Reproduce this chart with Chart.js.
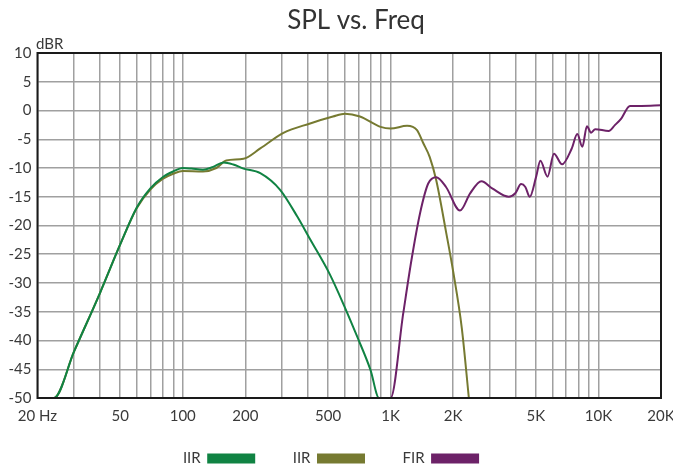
<!DOCTYPE html>
<html>
<head>
<meta charset="utf-8">
<script src="https://cdn.jsdelivr.net/npm/chart.js@4"></script>
<style>
  html, body { margin: 0; padding: 0; background: #fff; }
  #wrap { width: 673px; height: 468px; }
</style>
</head>
<body>
<div id="wrap"><canvas id="splChart"></canvas></div>
<script>
// axis setup
const xTickValues = [20, 50, 100, 200, 500, 1000, 2000, 5000, 10000, 20000]
const xTickLabels = ['20 Hz', '50', '100', '200', '500', '1K', '2K', '5K', '10K', '20K']
const yMin = -50
const yMax = 10
const yStep = 5

// IIR (green)
const iirGreenFreq = [20, 24, 30, 40, 50, 60, 70, 80, 90, 100, 110, 125, 140, 157, 175, 196, 236, 294, 355, 410, 510, 600, 690, 800, 880, 1500]
const iirGreenDb = [-50, -50, -41.9, -31.7, -23.3, -16.9, -13.5, -11.6, -10.6, -10.0, -10.1, -10.3, -9.8, -9.05, -9.4, -10.1, -10.9, -13.8, -18.4, -22.4, -28.5, -34.1, -39.3, -45.1, -50, -50]

// IIR (olive)
const iirOliveFreq = [20, 24, 30, 40, 50, 60, 70, 80, 90, 100, 125, 145, 162, 196, 236, 305, 410, 528, 603, 712, 894, 1000, 1200, 1340, 1437, 1543, 1657, 1848, 2000, 2200, 2380]
const iirOliveDb = [-50, -50, -41.9, -31.7, -23.3, -17.0, -13.7, -11.9, -11.0, -10.5, -10.6, -10.0, -8.7, -8.4, -6.6, -3.9, -2.25, -1.05, -0.55, -1.05, -2.85, -3.15, -2.65, -3.4, -5.7, -8.1, -12.1, -21.1, -28, -37.8, -50]

// FIR (purple)
const firFreq = [800, 1000, 1150, 1260, 1385, 1517, 1657, 1848, 2157, 2414, 2736, 3095, 3706, 3981, 4245, 4450, 4673, 5016, 5256, 5690, 6110, 6683, 7440, 7910, 8370, 8800, 9220, 9650, 11200, 12000, 12900, 14180, 16100, 20000]
const firDb = [-50, -50, -35.3, -26, -17.9, -12.7, -11.6, -13.3, -17.4, -14.4, -12.3, -13.6, -15.0, -14.4, -12.8, -13.3, -15.0, -11.5, -8.75, -11.5, -7.5, -9.35, -6.6, -4.1, -6.3, -2.75, -3.85, -3.25, -3.55, -2.55, -1.35, 0.8, 0.8, 0.9]

const toPoints = (freqs, dbs) => freqs.map((f, i) => ({ x: f, y: dbs[i] }))

// grid at every 1..9 step in each decade, 20 Hz to 20 kHz
const gridValues = []
for (let decade = 10; decade <= 10000; decade *= 10) {
  for (let m = 1; m <= 9; m++) {
    const v = m * decade
    if (v >= 20 && v <= 20000) gridValues.push(v)
  }
}

const textColor = '#3a3a3a'
const gridColor = '#a0a0a0'

const framePlugin = {
  id: 'frameAndLabels',
  afterLayout(chart) {
    // legend sits close under the tick labels
    chart.legend.top = chart.chartArea.bottom + 14.5
  },
  afterDraw(chart) {
    const { ctx, chartArea } = chart
    ctx.save()
    ctx.strokeStyle = '#1a1a1a'
    ctx.lineWidth = 2
    ctx.strokeRect(chartArea.left, chartArea.top, chartArea.right - chartArea.left, chartArea.bottom - chartArea.top)

    ctx.fillStyle = '#333'
    ctx.textBaseline = 'alphabetic'
    ctx.font = '26px Lato'
    ctx.textAlign = 'center'
    ctx.fillText('SPL vs. Freq', 356, 28.5)

    ctx.font = '15px Lato'
    ctx.textAlign = 'left'
    ctx.fillStyle = textColor
    ctx.fillText('dBR', 36, 49)
    ctx.restore()
  }
}

new Chart(document.getElementById('splChart'), {
  type: 'line',
  data: {
    datasets: [{
      label: 'IIR',
      data: toPoints(iirGreenFreq, iirGreenDb),
      borderColor: '#108343',
      backgroundColor: '#108343',
      order: 1
    }, {
      label: 'IIR',
      data: toPoints(iirOliveFreq, iirOliveDb),
      borderColor: '#767a31',
      backgroundColor: '#767a31',
      order: 2
    }, {
      label: 'FIR',
      data: toPoints(firFreq, firDb),
      borderColor: '#6d2268',
      backgroundColor: '#6d2268',
      order: 0
    }]
  },
  options: {
    responsive: true,
    maintainAspectRatio: false,
    animation: false,
    layout: {
      padding: { top: 53, right: 12, left: 0, bottom: 0 }
    },
    elements: {
      point: { radius: 0 },
      line: { borderWidth: 2, cubicInterpolationMode: 'monotone', fill: false }
    },
    plugins: {
      title: { display: false },
      tooltip: { enabled: false },
      legend: {
        position: 'bottom',
        rtl: true,
        reverse: true,
        maxHeight: 43,
        labels: {
          boxWidth: 46,
          boxHeight: 8,
          padding: 38.5,
          color: textColor,
          font: { family: 'Lato', size: 15 },
          sort: (a, b) => a.datasetIndex - b.datasetIndex
        }
      }
    },
    scales: {
      x: {
        type: 'logarithmic',
        min: 20,
        max: 20000,
        afterBuildTicks: scale => {
          scale.ticks = gridValues.map(v => ({ value: v }))
        },
        afterFit: scale => {
          scale.height = 27
          scale.paddingLeft = 0
          scale.paddingRight = 0
        },
        border: { display: false },
        grid: { color: gridColor, lineWidth: 1.5, drawTicks: false },
        ticks: {
          autoSkip: false,
          maxRotation: 0,
          padding: 9,
          color: textColor,
          font: { family: 'Lato', size: 15 },
          callback: function(value) {
            const i = xTickValues.indexOf(value)
            return i >= 0 ? xTickLabels[i] : ''
          }
        }
      },
      y: {
        min: yMin,
        max: yMax,
        afterFit: scale => {
          scale.width = 37.5
        },
        border: { display: false },
        grid: { color: gridColor, lineWidth: 1.5, drawTicks: false },
        ticks: {
          stepSize: yStep,
          padding: 6,
          color: textColor,
          font: { family: 'Lato', size: 15 }
        }
      }
    }
  },
  plugins: [framePlugin]
})
</script>
</body>
</html>
